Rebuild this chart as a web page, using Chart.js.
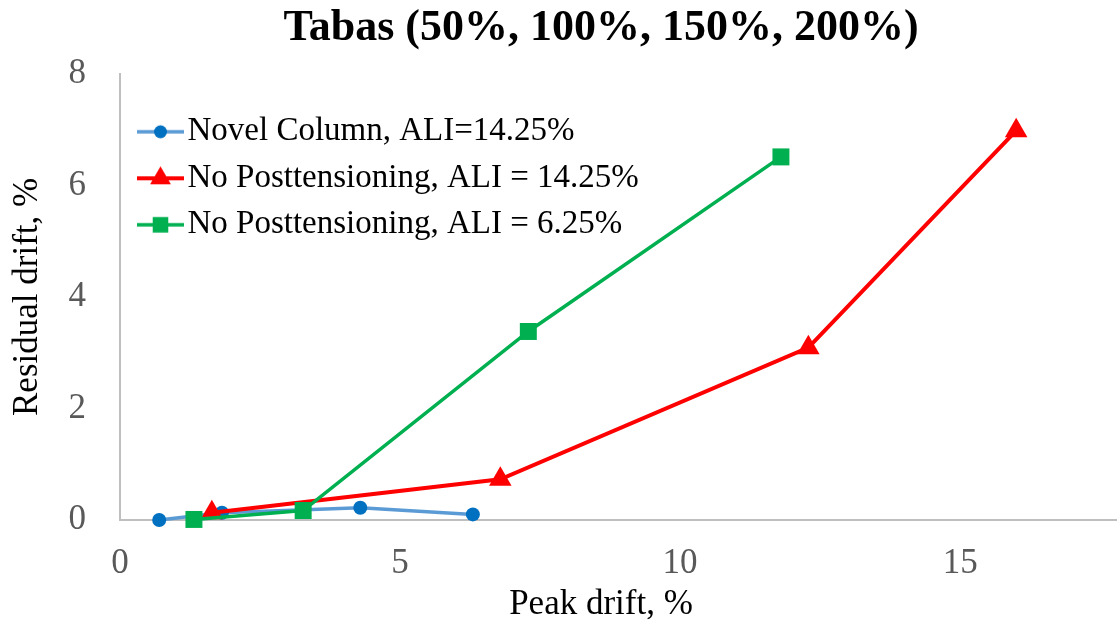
<!DOCTYPE html>
<html>
<head>
<meta charset="utf-8">
<script src="https://cdn.jsdelivr.net/npm/chart.js@4"></script>
<style>
  html, body { margin: 0; padding: 0; background: #fff; overflow: hidden; }
  canvas { display: block; }
</style>
</head>
<body>
<canvas id="chart" width="1117" height="626"></canvas>
<script>
// values (peak drift %, residual drift %)
const novelX = [0.70, 1.82, 4.29, 6.30];
const novelY = [0.00, 0.13, 0.22, 0.10];
const noPt14X = [1.64, 6.79, 12.29, 16.0];
const noPt14Y = [0.13, 0.73, 3.09, 6.98];
const noPt6X = [1.32, 3.27, 7.29, 11.8];
const noPt6Y = [0.01, 0.17, 3.38, 6.51];
const seriesNames = ['Novel Column, ALI=14.25%', 'No Posttensioning, ALI = 14.25%', 'No Posttensioning, ALI = 6.25%'];
const xTicks = [0, 5, 10, 15];
const yTicks = [0, 2, 4, 6, 8];

const serif = '"Liberation Serif", "Times New Roman", serif';
const tickGrey = '#595959';
const axisGrey = '#BFBFBF';

const pts = (xs, ys) => xs.map((x, i) => ({ x: x, y: ys[i] }));

// line + marker icon for the legend, drawn on a small canvas
function legendIcon(lineColor, lineWidth, markerColor, style, r) {
  const c = document.createElement('canvas');
  c.width = 66; c.height = 30;
  const g = c.getContext('2d');
  const cy = 15, x0 = 19, x1 = 66, cx = (x0 + x1) / 2;
  g.strokeStyle = lineColor;
  g.lineWidth = lineWidth;
  g.beginPath(); g.moveTo(x0, cy); g.lineTo(x1, cy); g.stroke();
  g.fillStyle = markerColor;
  g.beginPath();
  if (style === 'circle') {
    g.arc(cx, cy, r, 0, Math.PI * 2);
  } else if (style === 'triangle') {
    g.moveTo(cx, cy - r);
    g.lineTo(cx + r * 0.866, cy + r / 2);
    g.lineTo(cx - r * 0.866, cy + r / 2);
    g.closePath();
  } else {
    const h = r * Math.SQRT1_2;
    g.rect(cx - h, cy - h, 2 * h, 2 * h);
  }
  g.fill();
  return c;
}

const icons = [
  legendIcon('#5B9BD5', 3.5, '#0070C0', 'circle', 6.5),
  legendIcon('#FF0000', 4, '#FF0000', 'triangle', 12),
  legendIcon('#00B050', 3.5, '#00B050', 'rect', 11),
];

// stretch the plot to the right edge and put the legend in its upper left
const layoutFix = {
  id: 'layoutFix',
  afterLayout(chart) {
    const a = chart.chartArea, x = chart.scales.x;
    x.right = chart.width;
    x.width = x.right - x.left;
    x.configure();
    a.right = chart.width;
    a.width = a.right - a.left;

    const l = chart.legend;
    l.left = a.left - 2.5;
    l.right = a.right;
    l.top = a.top + 28;
    l.bottom = a.bottom;
  }
};

const data = {
  datasets: [{
    label: seriesNames[0],
    data: pts(novelX, novelY),
    borderColor: '#5B9BD5',
    backgroundColor: '#0070C0',
    borderWidth: 3.5,
    pointStyle: 'circle',
    pointRadius: 7,
    pointBackgroundColor: '#0070C0',
    pointBorderWidth: 0,
    order: 3,
    clip: false,
  }, {
    label: seriesNames[1],
    data: pts(noPt14X, noPt14Y),
    borderColor: '#FF0000',
    backgroundColor: '#FF0000',
    borderWidth: 4,
    pointStyle: 'triangle',
    pointRadius: 13,
    pointBackgroundColor: '#FF0000',
    pointBorderWidth: 0,
    order: 2,
    clip: false,
  }, {
    label: seriesNames[2],
    data: pts(noPt6X, noPt6Y),
    borderColor: '#00B050',
    backgroundColor: '#00B050',
    borderWidth: 3.5,
    pointStyle: 'rect',
    pointRadius: 12,
    pointBackgroundColor: '#00B050',
    pointBorderWidth: 0,
    order: 1,
    clip: false,
  }]
};

const config = {
  type: 'line',
  data: data,
  plugins: [layoutFix],
  options: {
    responsive: false,
    animation: false,
    layout: { padding: 0 },
    elements: {
      line: { tension: 0, fill: false },
    },
    scales: {
      x: {
        type: 'linear',
        min: 0,
        max: 17.8,
        afterBuildTicks: s => { s.ticks = xTicks.map(v => ({ value: v })); },
        afterFit: s => { s.height = 106; },
        grid: { display: false, drawTicks: false },
        border: { display: true, color: axisGrey, width: 2 },
        ticks: {
          padding: 23,
          color: tickGrey,
          font: { family: serif, size: 35 },
          maxRotation: 0,
        },
        title: {
          display: true,
          text: 'Peak drift, %    ',
          color: '#000',
          font: { family: serif, size: 35 },
          padding: { top: 0, bottom: 0 },
        },
      },
      y: {
        min: 0,
        max: 8,
        afterBuildTicks: s => { s.ticks = yTicks.map(v => ({ value: v })); },
        afterFit: s => { s.width = 120; },
        grid: { display: false, drawTicks: false },
        border: { display: true, color: axisGrey, width: 2 },
        ticks: {
          padding: 34,
          color: tickGrey,
          font: { family: serif, size: 35 },
        },
        title: {
          display: true,
          text: 'Residual drift, %',
          color: '#000',
          font: { family: serif, size: 35 },
          padding: { top: 7, bottom: 19 },
        },
      },
    },
    plugins: {
      title: {
        display: true,
        text: 'Tabas (50%, 100%, 150%, 200%)  ',
        color: '#000',
        fullSize: false,
        font: { family: serif, size: 44, weight: 'bold' },
        padding: { top: 2, bottom: 19 },
      },
      legend: {
        position: 'chartArea',
        fullSize: false,
        align: 'start',
        labels: {
          usePointStyle: true,
          pointStyleWidth: 40,
          padding: 13.5,
          color: '#000',
          font: { family: serif, size: 33 },
          sort: (a, b) => a.datasetIndex - b.datasetIndex,
          generateLabels: chart => {
            const items = Chart.defaults.plugins.legend.labels.generateLabels(chart);
            items.forEach(it => { it.pointStyle = icons[it.datasetIndex]; });
            return items;
          },
        },
      },
      tooltip: { enabled: false },
    },
  },
};

new Chart(document.getElementById('chart'), config);
</script>
</body>
</html>
